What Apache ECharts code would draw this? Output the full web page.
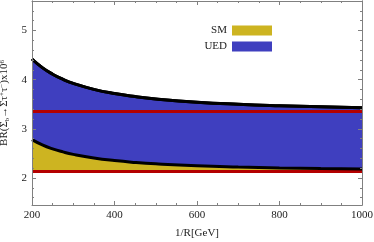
<!DOCTYPE html>
<html><head><meta charset="utf-8">
<script src="https://cdn.jsdelivr.net/npm/echarts@6/dist/echarts.min.js"></script>
<style>html,body{margin:0;padding:0;background:#fff}#c{width:374px;height:242px}</style>
</head><body><div id="c"></div>
<script>
// 1/R [GeV]
var xs = [200,225,250,275,300,350,400,450,500,600,700,800,900,1000];
// UED upper curve (BR x 10^6)
var uedUpper = [4.42,4.244,4.111,4.007,3.925,3.803,3.717,3.655,3.608,3.542,3.499,3.469,3.447,3.43];
// UED lower curve (BR x 10^6)
var uedLower = [2.78,2.673,2.592,2.530,2.480,2.406,2.354,2.316,2.288,2.248,2.222,2.203,2.190,2.18];
// SM horizontal bounds
var smUpper = 3.35;
var smLower = 2.13;
var yTickLabels = [2,3,4,5];
var yMinorTicks = [1.6,1.8,2.2,2.4,2.6,2.8,3.2,3.4,3.6,3.8,4.2,4.4,4.6,4.8,5.2,5.4];

var FONT = '"Liberation Serif","DejaVu Serif",serif';
var pair = function(arr){ return xs.map(function(x,i){ return [x, arr[i]]; }); };

var axisCol = '#808080';
function yAx(pos, major, labels){
  return {
    type:'value', min:1.45, max:5.6, position:pos, z:10,
    axisLine:{show:true, lineStyle:{color:axisCol, width:1}},
    splitLine:{show:false},
    axisTick:{show:true, inside:true, length: major?4:2, customValues: major?yTickLabels:yMinorTicks, lineStyle:{color:axisCol}},
    axisLabel:{show:labels, customValues: yTickLabels, fontFamily:FONT, fontSize:11, color:'#222', margin:5},
    name: labels ? 'BR(Σ{sub|b}→Στ{sup|+}τ{sup|−})x10{sup|6}' : '',
    nameLocation:'middle', nameGap:17,
    nameTextStyle:{fontFamily:FONT, fontSize:11, color:'#222',
      rich:{sub:{fontSize:7, fontFamily:FONT, color:'#222', verticalAlign:'bottom', padding:[5,0,0,0]},
            sup:{fontSize:7, fontFamily:FONT, color:'#222', verticalAlign:'top', padding:[0,0,5,0]}}}
  };
}
function xAx(pos, labels){
  return {
    type:'value', min:200, max:1000, interval:200, position:pos, z:10,
    axisLine:{show:true, onZero:false, lineStyle:{color:axisCol, width:1}},
    splitLine:{show:false},
    axisTick:{show:true, inside:true, length:4, lineStyle:{color:axisCol}},
    minorTick:{show:true, splitNumber:4, length:2, lineStyle:{color:axisCol}},
    axisLabel:{show:labels, fontFamily:FONT, fontSize:11, color:'#222', margin:5,
      formatter:function(v){ return String(v); }},
    name: labels ? '1/R[GeV]' : '', nameLocation:'middle', nameGap:23,
    nameTextStyle:{fontFamily:FONT, fontSize:11, color:'#222'}
  };
}
var SMOOTH = true;
var chart = echarts.init(document.getElementById('c'), null, {renderer:'canvas'});
chart.setOption({
  animation:false,
  grid:{left:32, right:12, top:1, bottom:37, outerBoundsMode:'none', containLabel:false},
  legend:{
    data:['SM','UED'], orient:'vertical', right:102, top:25, itemWidth:40, itemHeight:10, itemGap:5, padding:0,
    align:'right', icon:'rect', textStyle:{fontFamily:FONT, fontSize:11, color:'#222'}
  },
  xAxis:[xAx('bottom', true), xAx('top', false)],
  yAxis:[yAx('left', true, true), yAx('left', false, false), yAx('right', true, false), yAx('right', false, false)],
  series:[
    {name:'UED', type:'line', data:pair(uedUpper), smooth:SMOOTH, symbol:'none',
     lineStyle:{color:'#000', width:3}, itemStyle:{color:'#3F3FBF'},
     areaStyle:{color:'#3F3FBF', opacity:1, origin:smLower}, z:2},
    {name:'SM', type:'line', data:pair(uedLower), smooth:SMOOTH, symbol:'none',
     lineStyle:{color:'#000', width:0}, itemStyle:{color:'#CDB421'},
     areaStyle:{color:'#CDB421', opacity:1, origin:smLower}, z:3},
    {type:'line', data:[[200,smUpper],[1000,smUpper]], symbol:'none', lineStyle:{color:'#B40000', width:3}, z:4, silent:true},
    {type:'line', data:[[200,smLower],[1000,smLower]], symbol:'none', lineStyle:{color:'#B40000', width:3}, z:4, silent:true},
    {type:'line', data:pair(uedUpper), smooth:SMOOTH, symbol:'none', lineStyle:{color:'#000', width:3}, z:5, silent:true},
    {type:'line', data:pair(uedLower), smooth:SMOOTH, symbol:'none', lineStyle:{color:'#000', width:3}, z:5, silent:true}
  ]
});
</script>
</body></html>
